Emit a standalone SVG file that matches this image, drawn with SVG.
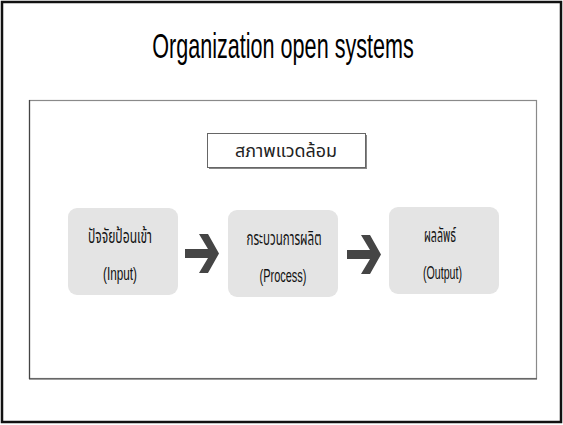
<svg xmlns="http://www.w3.org/2000/svg" width="563" height="425" viewBox="0 0 563 425">
  <style>
    .title { font-family: "Liberation Sans", sans-serif; font-size: 36px; fill: #000; }
    .node rect { fill: #e4e4e4; stroke: none; }
    .nt { font-family: "Liberation Sans", "Noto Sans Thai", sans-serif; font-size: 19px; fill: #111; text-anchor: middle; }
    .th { font-family: "Noto Sans Thai", "Liberation Sans", sans-serif; font-size: 20px; fill: #111; text-anchor: middle; }
    .env { font-family: "Noto Sans Thai", "Noto Sans", "DejaVu Sans", sans-serif; font-size: 17px; fill: #222; text-anchor: middle; }
    .arrow { fill: #454545; }
  </style>
  <rect x="0" y="0" width="563" height="425" fill="#ffffff"/>
  <rect x="2" y="2" width="559" height="420" fill="none" stroke="#111" stroke-width="2.5"/>
  <text class="title" transform="translate(283,58) scale(0.6,1)" x="0" y="0" text-anchor="middle">Organization open systems</text>
  <g id="environment-frame">
    <rect x="29.5" y="100.5" width="507" height="278" fill="none" stroke="#8a8a8a" stroke-width="1.2"/>
    <line x1="29.5" y1="100" x2="29.5" y2="379" stroke="#444" stroke-width="1.2"/>
    <line x1="29" y1="379" x2="537" y2="379" stroke="#444" stroke-width="1.2"/>
  </g>
  <g id="environment-label">
    <rect x="209" y="135" width="158" height="34" fill="#888"/>
    <rect x="207.5" y="133.5" width="158" height="34" fill="#fff" stroke="#666" stroke-width="1"/>
    <text class="env" x="286" y="157" textLength="102" lengthAdjust="spacingAndGlyphs">สภาพแวดล้อม</text>
  </g>
  <g id="node-input" class="node">
    <rect x="68" y="208" width="110" height="87" rx="9"/>
    <text class="th" x="120" y="243" textLength="64" lengthAdjust="spacingAndGlyphs">ปัจจัยป้อนเข้า</text>
    <text class="nt" x="120" y="280" textLength="34" lengthAdjust="spacingAndGlyphs">(Input)</text>
  </g>
  <g id="node-process" class="node">
    <rect x="228" y="210" width="110" height="87" rx="9"/>
    <text class="th" x="284" y="245" textLength="75" lengthAdjust="spacingAndGlyphs">กระบวนการผลิต</text>
    <text class="nt" x="283" y="282" textLength="47" lengthAdjust="spacingAndGlyphs">(Process)</text>
  </g>
  <g id="node-output" class="node">
    <rect x="389" y="207" width="110" height="87" rx="9"/>
    <text class="th" x="440" y="242" textLength="32" lengthAdjust="spacingAndGlyphs">ผลลัพธ์</text>
    <text class="nt" x="442.5" y="279" textLength="39" lengthAdjust="spacingAndGlyphs">(Output)</text>
  </g>
  <g id="connectors">
    <path class="arrow" d="M185,249 H208 L199,234 H208 L219,253.5 L208,273 H199 L208,258 H185 Z"/>
    <path class="arrow" d="M347,250 H370 L361,235 H370 L381,254.5 L370,274 H361 L370,259 H347 Z"/>
  </g>
</svg>
